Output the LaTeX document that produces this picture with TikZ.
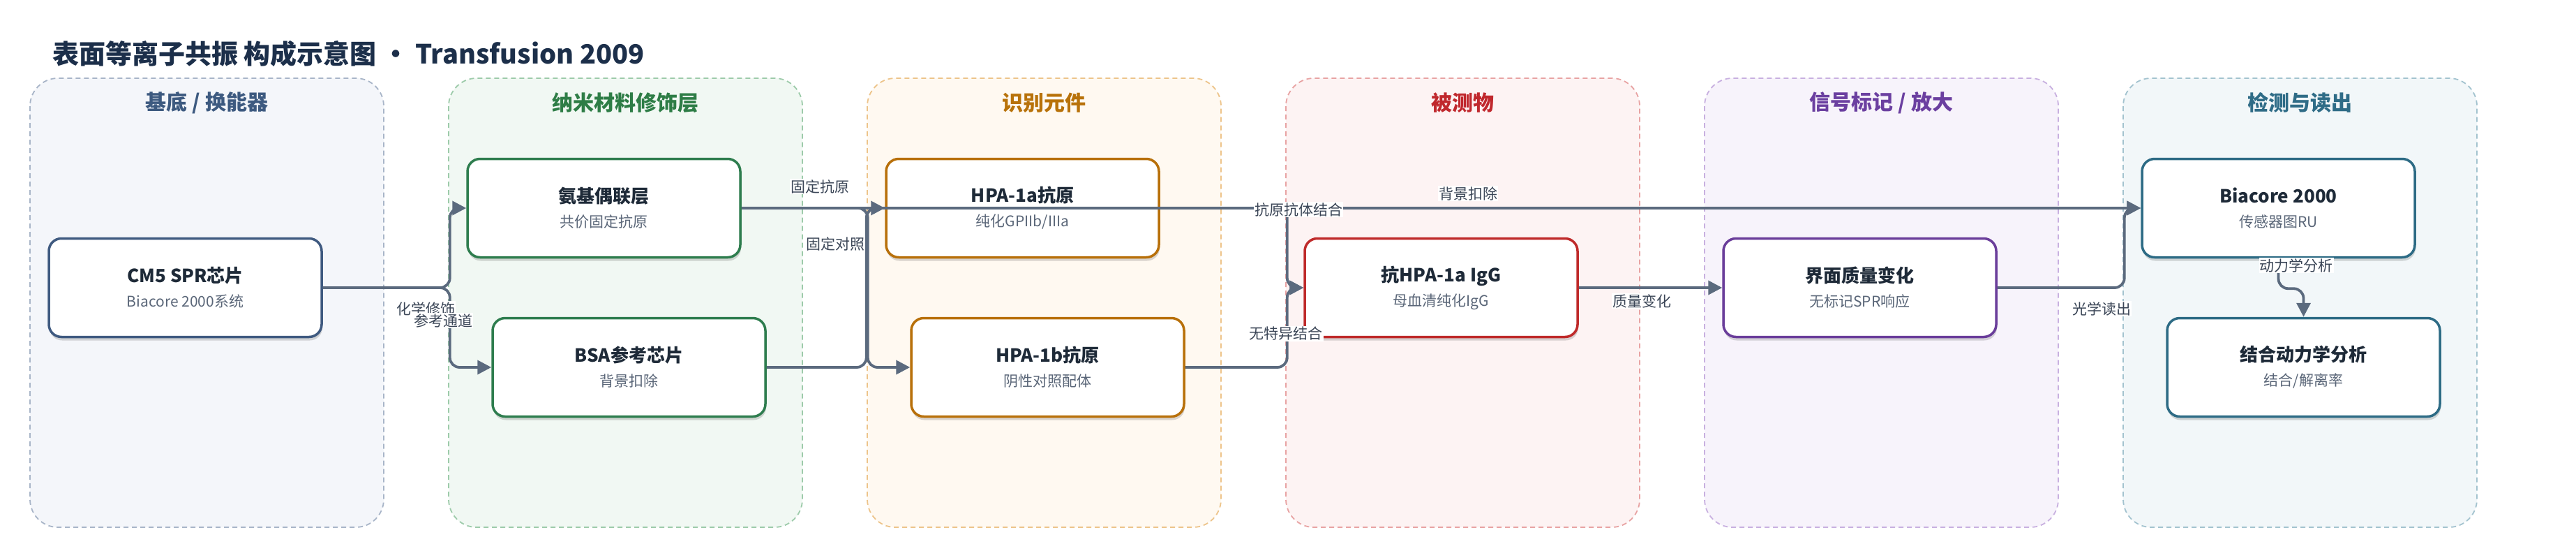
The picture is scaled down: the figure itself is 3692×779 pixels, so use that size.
\documentclass[tikz,border=0pt]{standalone}
\usepackage{fontspec}
\setmainfont{Noto Sans CJK SC}
\usetikzlibrary{arrows.meta,shadows}
\definecolor{titlecol}{HTML}{1C2F4A}
\definecolor{conncol}{HTML}{5B6A7E}
\definecolor{labcol}{HTML}{3A4556}
\definecolor{ntext}{HTML}{1E2A38}
\definecolor{nsub}{HTML}{5A6678}
\definecolor{pfA}{HTML}{F4F6FA}\definecolor{pbA}{HTML}{A8B5C8}\definecolor{ptA}{HTML}{3D5A80}\definecolor{nbA}{HTML}{3F5A80}
\definecolor{pfB}{HTML}{F1F8F3}\definecolor{pbB}{HTML}{9DCBAA}\definecolor{ptB}{HTML}{2E7D46}\definecolor{nbB}{HTML}{2E7D4E}
\definecolor{pfC}{HTML}{FFF9F1}\definecolor{pbC}{HTML}{EDC48A}\definecolor{ptC}{HTML}{B8720A}\definecolor{nbC}{HTML}{B8700A}
\definecolor{pfD}{HTML}{FDF3F3}\definecolor{pbD}{HTML}{E8A3A3}\definecolor{ptD}{HTML}{C0282D}\definecolor{nbD}{HTML}{BF2A2A}
\definecolor{pfE}{HTML}{F7F3FB}\definecolor{pbE}{HTML}{C8B0E0}\definecolor{ptE}{HTML}{6B3FA0}\definecolor{nbE}{HTML}{6A3D9A}
\definecolor{pfF}{HTML}{F2F7F9}\definecolor{pbF}{HTML}{A3C3CF}\definecolor{ptF}{HTML}{2F6C87}\definecolor{nbF}{HTML}{2D6B85}
\newcommand\boxtitle[1]{{\fontsize{26}{35}\selectfont\bfseries\color{ntext}#1}}
\newcommand\boxsub[1]{{\fontsize{21}{35}\selectfont\color{nsub}#1}}
\begin{document}
\begin{tikzpicture}[x=1pt,y=-1pt,
  panel/.style={dash pattern=on 7pt off 5pt, line width=1.8pt, rounded corners=40pt},
  ptitle/.style={font=\fontsize{30}{34}\selectfont\bfseries, inner sep=0pt},
  box/.style={fill=white, line width=3.5pt, rounded corners=18pt, minimum width=391pt, minimum height=141pt,
    align=center, inner sep=0pt, font=\fontsize{21}{35}\selectfont,
    drop shadow={shadow xshift=1pt, shadow yshift=-5pt, opacity=0.15, fill=black}},
  conn/.style={draw=conncol, line width=3.8pt, rounded corners=14pt, -{Triangle[length=20pt,width=20pt]}},
  lab/.style={fill=white, text=labcol, font=\fontsize{21}{24}\selectfont, inner sep=1pt}]
\useasboundingbox (0,0) rectangle (3692,779);
\fill[white] (0,0) rectangle (3692,779);
% title
\node[anchor=west, inner sep=0pt, text=titlecol, font=\fontsize{38}{42}\selectfont\bfseries] (title) at (75,77)
  {表面等离子共振 构成示意图 • Transfusion 2009};
% panels
\draw[panel, draw=pbA, fill=pfA] (43,112) rectangle (550,755);
\draw[panel, draw=pbB, fill=pfB] (643,112) rectangle (1150,755);
\draw[panel, draw=pbC, fill=pfC] (1243,112) rectangle (1750,755);
\draw[panel, draw=pbD, fill=pfD] (1843,112) rectangle (2350,755);
\draw[panel, draw=pbE, fill=pfE] (2443,112) rectangle (2950,755);
\draw[panel, draw=pbF, fill=pfF] (3043,112) rectangle (3550,755);
\node[ptitle, text=ptA] (ptA) at (296.5,147) {基底 / 换能器};
\node[ptitle, text=ptB] (ptB) at (896.5,147) {纳米材料修饰层};
\node[ptitle, text=ptC] (ptC) at (1496.5,147) {识别元件};
\node[ptitle, text=ptD] (ptD) at (2096.5,147) {被测物};
\node[ptitle, text=ptE] (ptE) at (2696.5,147) {信号标记 / 放大};
\node[ptitle, text=ptF] (ptF) at (3296.5,147) {检测与读出};
% nodes
\node[box, draw=nbA] (cm5) at (265.5,412) {\boxtitle{CM5 SPR芯片}\\\boxsub{Biacore 2000系统}};
\node[box, draw=nbB] (amino) at (865.5,298) {\boxtitle{氨基偶联层}\\\boxsub{共价固定抗原}};
\node[box, draw=nbB] (bsa) at (901.5,526) {\boxtitle{BSA参考芯片}\\\boxsub{背景扣除}};
\node[box, draw=nbC] (hpa1a) at (1465.5,298) {\boxtitle{HPA-1a抗原}\\\boxsub{纯化GPIIb/IIIa}};
\node[box, draw=nbC] (hpa1b) at (1501.5,526) {\boxtitle{HPA-1b抗原}\\\boxsub{阴性对照配体}};
\node[box, draw=nbD] (igg) at (2065.5,412) {\boxtitle{抗HPA-1a IgG}\\\boxsub{母血清纯化IgG}};
\node[box, draw=nbE] (mass) at (2665.5,412) {\boxtitle{界面质量变化}\\\boxsub{无标记SPR响应}};
\node[box, draw=nbF] (biacore) at (3265.5,298) {\boxtitle{Biacore 2000}\\\boxsub{传感器图RU}};
\node[box, draw=nbF] (kin) at (3301.5,526) {\boxtitle{结合动力学分析}\\\boxsub{结合/解离率}};
% connectors
\draw[conn] (cm5.east) -- ++(182,0) |- (amino.west);
\draw[conn] (cm5.east) -- ++(182,0) |- (bsa.west);
\draw[conn] (amino.east) -- (hpa1a.west);
\draw[conn] (amino.east) -- ++(181,0) |- (hpa1b.west);
\draw[conn] (bsa.east) -- ++(143,0) |- (biacore.west);
\draw[conn] (hpa1a.east) -- ++(182,0) |- (igg.west);
\draw[conn] (hpa1b.east) -- ++(146,0) |- (igg.west);
\draw[conn] (igg.east) -- (mass.west);
\draw[conn] (mass.east) -- ++(182,0) |- (biacore.west);
\draw[conn] (biacore.south) -- ++(0,43) -| (kin.north);
% labels
\node[lab] (l1) at (610,442) {化学修饰};
\node[lab] (l2) at (635,459) {参考通道};
\node[lab] (l3) at (1175,267) {固定抗原};
\node[lab] (l4) at (1197,349) {固定对照};
\node[lab] (l5) at (2104,277) {背景扣除};
\node[lab] (l6) at (1861,300) {抗原抗体结合};
\node[lab] (l7) at (1843,478) {无特异结合};
\node[lab] (l8) at (2353,431) {质量变化};
\node[lab] (l9) at (3012,442) {光学读出};
\node[lab] (l10) at (3291,380) {动力学分析};
\end{tikzpicture}
\end{document}
